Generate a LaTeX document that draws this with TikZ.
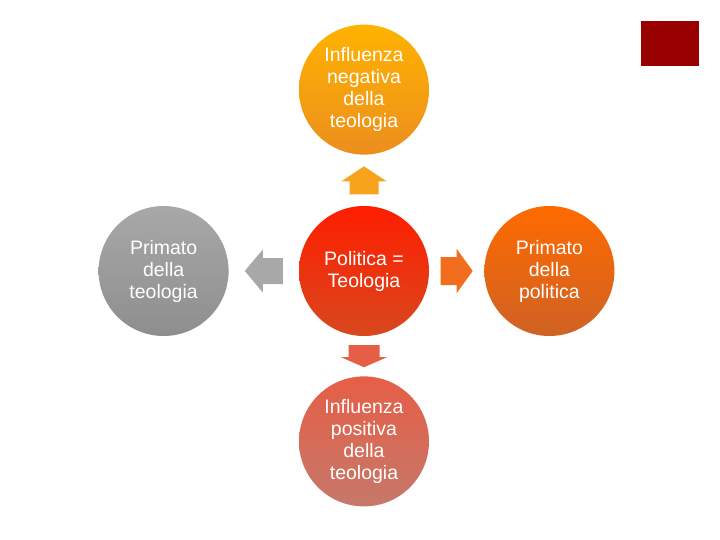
\documentclass[tikz,border=0pt]{standalone}
\usepackage{fontspec}
\setmainfont{Liberation Sans}
\usepackage{tikz}
\usetikzlibrary{positioning,calc}
\usepackage{xcolor}

\definecolor{negtop}{HTML}{FFB300}
\definecolor{negbot}{HTML}{EC8E1E}
\definecolor{greytop}{HTML}{A8A8A8}
\definecolor{greybot}{HTML}{8E8E8E}
\definecolor{redtop}{HTML}{FF1E00}
\definecolor{redbot}{HTML}{D8481E}
\definecolor{pultop}{HTML}{FF6A00}
\definecolor{pulbot}{HTML}{CF6224}
\definecolor{postop}{HTML}{E65E46}
\definecolor{posbot}{HTML}{C6786A}
\definecolor{corner}{HTML}{990000}
\definecolor{uparrow}{HTML}{F7A41C}
\definecolor{rightarrow}{HTML}{F26E1E}

\begin{document}
\begin{tikzpicture}[
    x=1pt, y=-1pt,
    bubble/.style={circle, minimum size=130pt, inner sep=0pt, align=center, text=white,
                   font=\fontsize{19.5}{22}\selectfont},
    pics/blockarrow/.style n args={4}{code={
      \fill (-#1/2,-#2) -- (#1/2-#4,-#2) -- (#1/2-#4,-#3) -- (#1/2,0)
            -- (#1/2-#4,#3) -- (#1/2-#4,#2) -- (-#1/2,#2) -- cycle;
    }}
]
  \useasboundingbox[fill=white] (0,0) rectangle (720,540);

  % Nodes
  \node[bubble, top color=redtop, middle color=redtop, bottom color=redbot] (theo) at (364,271) {Politica =\\Teologia};
  \node[bubble, above=51pt of theo, top color=negtop, middle color=negtop, bottom color=negbot] (neg) {Influenza\\negativa\\della\\teologia};
  \node[bubble, left=70pt of theo, top color=greytop, middle color=greytop, bottom color=greybot] (primteo) {Primato\\della\\teologia};
  \node[bubble, right=55pt of theo, top color=pultop, middle color=pultop, bottom color=pulbot] (primpol) {Primato\\della\\politica};
  \node[bubble, below=40pt of theo, top color=postop, middle color=postop, bottom color=posbot] (pos) {Influenza\\positiva\\della\\teologia};

  \node[fill=corner, minimum width=58pt, minimum height=45pt, inner sep=0pt] (mark) at (670,43.5) {};

  % Arrows
  \coordinate (upmid) at ($(theo.north)!0.5!(neg.south)$);
  \coordinate (leftmid) at ($(theo.west)!0.5!(primteo.east)$);
  \coordinate (rightmid) at ($(theo.east)!0.5!(primpol.west)$);
  \coordinate (downmid) at ($(theo.south)!0.5!(pos.north)$);
  \pic[fill=uparrow, rotate=90] (upar) at (upmid) {blockarrow={28}{14.5}{22.5}{15}};
  \pic[fill=greytop, rotate=180] (leftar) at (leftmid) {blockarrow={38}{13}{21.5}{18}};
  \pic[fill=rightarrow] (rightar) at (rightmid) {blockarrow={32}{14}{22}{16}};
  \pic[fill=postop, rotate=-90] (downar) at (downmid) {blockarrow={22}{15.5}{23}{10}};
\end{tikzpicture}
\end{document}
